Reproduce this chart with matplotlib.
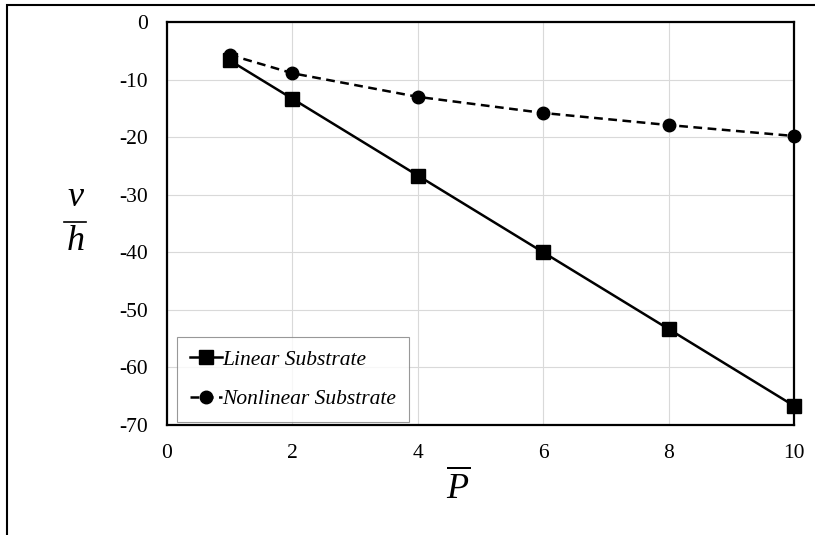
import matplotlib
matplotlib.use("Agg")
import matplotlib.pyplot as plt
from matplotlib import patches
from matplotlib.lines import Line2D

# load values
p_bar = [1, 2, 4, 6, 8, 10]
linear_vh = [-6.67, -13.33, -26.67, -40.0, -53.33, -66.67]
nonlinear_vh = [-5.7, -8.9, -13.0, -15.8, -17.9, -19.8]
x_ticks = [0, 2, 4, 6, 8, 10]
y_ticks = [0, -10, -20, -30, -40, -50, -60, -70]

plt.rcParams['font.family'] = ['Liberation Serif', 'DejaVu Serif']
plt.rcParams['mathtext.fontset'] = 'custom'
plt.rcParams['mathtext.it'] = 'Liberation Serif:italic'
plt.rcParams['mathtext.rm'] = 'Liberation Serif'
plt.rcParams['axes.unicode_minus'] = False

fig = plt.figure(figsize=(8.15, 5.35), dpi=100)
ax = fig.add_axes([167 / 815, 1 - 425 / 535, 627 / 815, 403 / 535])

ax.plot(p_bar, linear_vh, color='black', lw=1.8, marker='s', ms=10,
        label='Linear Substrate', clip_on=False, zorder=3)
ax.plot(p_bar, nonlinear_vh, color='black', lw=1.8, ls=(0, (3.5, 2.2)),
        marker='o', ms=9, label='Nonlinear Substrate', clip_on=False, zorder=3)

ax.set_xlim(0, 10)
ax.set_ylim(-70, 0)
ax.set_xticks(x_ticks)
ax.set_yticks(y_ticks)
ax.tick_params(length=0, labelsize=15.5)
ax.tick_params(axis='y', pad=14)
ax.tick_params(axis='x', pad=14)
ax.grid(True, color='#d9d9d9', lw=0.8)
ax.set_axisbelow(True)
for s in ax.spines.values():
    s.set_linewidth(1.6)
    s.set_color('black')

leg = ax.legend(loc='lower left', bbox_to_anchor=(0.016, 0.007), fancybox=False,
                prop={'style': 'italic', 'size': 15.5}, handlelength=1.5,
                handletextpad=0.0, borderpad=0.6, labelspacing=0.9,
                borderaxespad=0.0)
leg.get_frame().set_edgecolor('#7f7f7f')
leg.get_frame().set_linewidth(0.8)

# axis labels
fig.text(458 / 815, 1 - 488 / 535, r'$\overline{P}$', fontsize=26,
         ha='center', va='center')
fig.text(75 / 815, 1 - 198 / 535, 'v', fontsize=26, style='italic',
         ha='center', va='center')
fig.text(76 / 815, 1 - 242 / 535, 'h', fontsize=26, style='italic',
         ha='center', va='center')
fig.add_artist(Line2D([64 / 815, 86 / 815], [1 - 222 / 535, 1 - 222 / 535],
                      color='black', lw=1.2, transform=fig.transFigure))

# outer frame
fig.patches.append(patches.Rectangle((7 / 815, -0.1), 1.2, 1 - 5 / 535 + 0.1,
                                     transform=fig.transFigure, fill=False,
                                     edgecolor='black', lw=1.5))

fig.savefig('out.png', dpi=100)
